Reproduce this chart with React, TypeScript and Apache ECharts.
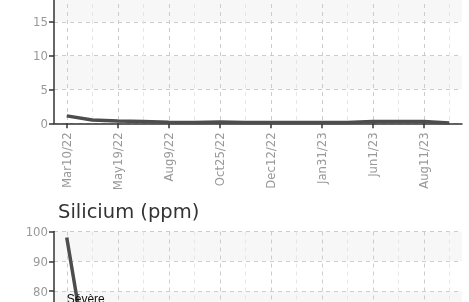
import React, { useEffect, useRef } from 'react';
import * as echarts from 'echarts';

// Visible x labels (every other sample is labelled)
const dateLabels = ['Mar10/22', 'May19/22', 'Aug9/22', 'Oct25/22', 'Dec12/22', 'Jan31/23', 'Jun1/23', 'Aug11/23'];
// Upper chart (partly scrolled out of view)
const upperValues = [1.1, 0.5, 0.35, 0.25, 0.15, 0.12, 0.2, 0.12, 0.1, 0.1, 0.1, 0.12, 0.25, 0.25, 0.25, 0.05];
const upperTicks = { min: 0, max: 20, interval: 5 };
// Silicium (ppm)
const siliciumValues = [98, 47, 30, 22, 18, 15, 20, 17, 14, 16, 12, 15, 18, 14, 13, 12];
const siliciumTicks = { min: 0, max: 100, interval: 10 };
const severeLevel = 80;
const severeLabel = 'Sévère';
const title2 = 'Silicium (ppm)';

const OFFSET = 40;
const NARROW = "'Liberation Sans Narrow', 'DejaVu Sans Condensed', sans-serif";

export default function App() {
  const ref = useRef<HTMLDivElement>(null);
  useEffect(() => {
    if (!ref.current) return;
    const chart = echarts.init(ref.current, null, { renderer: 'svg' });
    const n = upperValues.length;
    const all = Array.from({ length: n }, (_, i) => i);
    const even = all.filter((i) => i % 2 === 0);
    const odd = all.filter((i) => i % 2 === 1);

    const mainX = (gridIndex: number) => ({
      type: 'value',
      gridIndex,
      min: -0.5,
      max: n - 0.5,
      position: 'bottom',
      axisLine: { show: true, onZero: false, lineStyle: { color: '#333', width: 1.5 } },
      axisTick: { show: true, customValues: even, length: 5, lineStyle: { color: '#333', width: 1.5 } },
      axisLabel: {
        show: true,
        customValues: even,
        rotate: 90,
        margin: 9,
        color: '#999',
        fontSize: 13,
        fontFamily: NARROW,
        formatter: (v: number) => dateLabels[Math.round(v / 2)] ?? '',
      },
      splitLine: { show: true, lineStyle: { color: '#cccccc', type: [4, 4], width: 1 } },
    });
    const minorX = (gridIndex: number) => ({
      type: 'value',
      gridIndex,
      min: -0.5,
      max: n - 0.5,
      position: 'top',
      axisLine: { show: false, onZero: false },
      axisTick: { show: false, customValues: odd },
      axisLabel: { show: false },
      splitLine: { show: true, lineStyle: { color: '#e6e6e6', type: [4, 4], width: 1 } },
    });
    const yAx = (gridIndex: number, t: { min: number; max: number; interval: number }) => ({
      type: 'value',
      gridIndex,
      min: t.min,
      max: t.max,
      interval: t.interval,
      position: 'left',
      axisLine: { show: true, onZero: false, lineStyle: { color: '#333', width: 1.5 } },
      axisTick: { show: true, length: 5, lineStyle: { color: '#333', width: 1.5 } },
      axisLabel: { color: '#999', fontSize: 13, fontFamily: NARROW, margin: 6 },
      splitLine: { show: true, lineStyle: { color: '#cccccc', type: [4, 4], width: 1 } },
      splitArea: { show: true, areaStyle: { color: ['rgba(255,255,255,0)', '#f7f7f7'] } },
    });

    chart.setOption({
      animation: false,
      title: {
        text: title2,
        left: 58,
        top: 241,
        padding: 0,
        textStyle: { fontFamily: 'DejaVu Sans', fontSize: 19.5, fontWeight: 'normal', color: '#333' },
      },
      grid: [
        { left: 54, width: 408, top: 28, height: 135.3 },
        { left: 54, width: 408, top: 271.5, height: 310 },
      ],
      xAxis: [mainX(0), minorX(0), mainX(1), minorX(1)],
      yAxis: [yAx(0, upperTicks), yAx(1, siliciumTicks)],
      series: [
        {
          type: 'line',
          xAxisIndex: 0,
          yAxisIndex: 0,
          data: upperValues.map((v, i) => [i, v]),
          showSymbol: false,
          lineStyle: { color: '#4d4d4d', width: 3.5 },
          itemStyle: { color: '#4d4d4d' },
        },
        {
          type: 'line',
          xAxisIndex: 2,
          yAxisIndex: 1,
          data: siliciumValues.map((v, i) => [i, v]),
          showSymbol: false,
          lineStyle: { color: '#4d4d4d', width: 3.5 },
          itemStyle: { color: '#4d4d4d' },
          markLine: {
            silent: true,
            symbol: ['none', 'none'],
            lineStyle: { color: 'rgba(0,0,0,0)', width: 1 },
            label: {
              show: true,
              formatter: severeLabel,
              position: 'insideStartBottom',
              distance: [0, 2],
              color: '#111',
              fontSize: 12,
              fontFamily: "'Liberation Sans', sans-serif",
            },
            data: [[{ coord: [0, severeLevel] }, { coord: [n - 1, severeLevel] }]],
          },
        },
      ],
    });
    return () => chart.dispose();
  }, []);
  return (
    <div
      ref={ref}
      style={{ position: 'fixed', left: 0, top: -OFFSET, width: 469, height: 640 }}
    />
  );
}
